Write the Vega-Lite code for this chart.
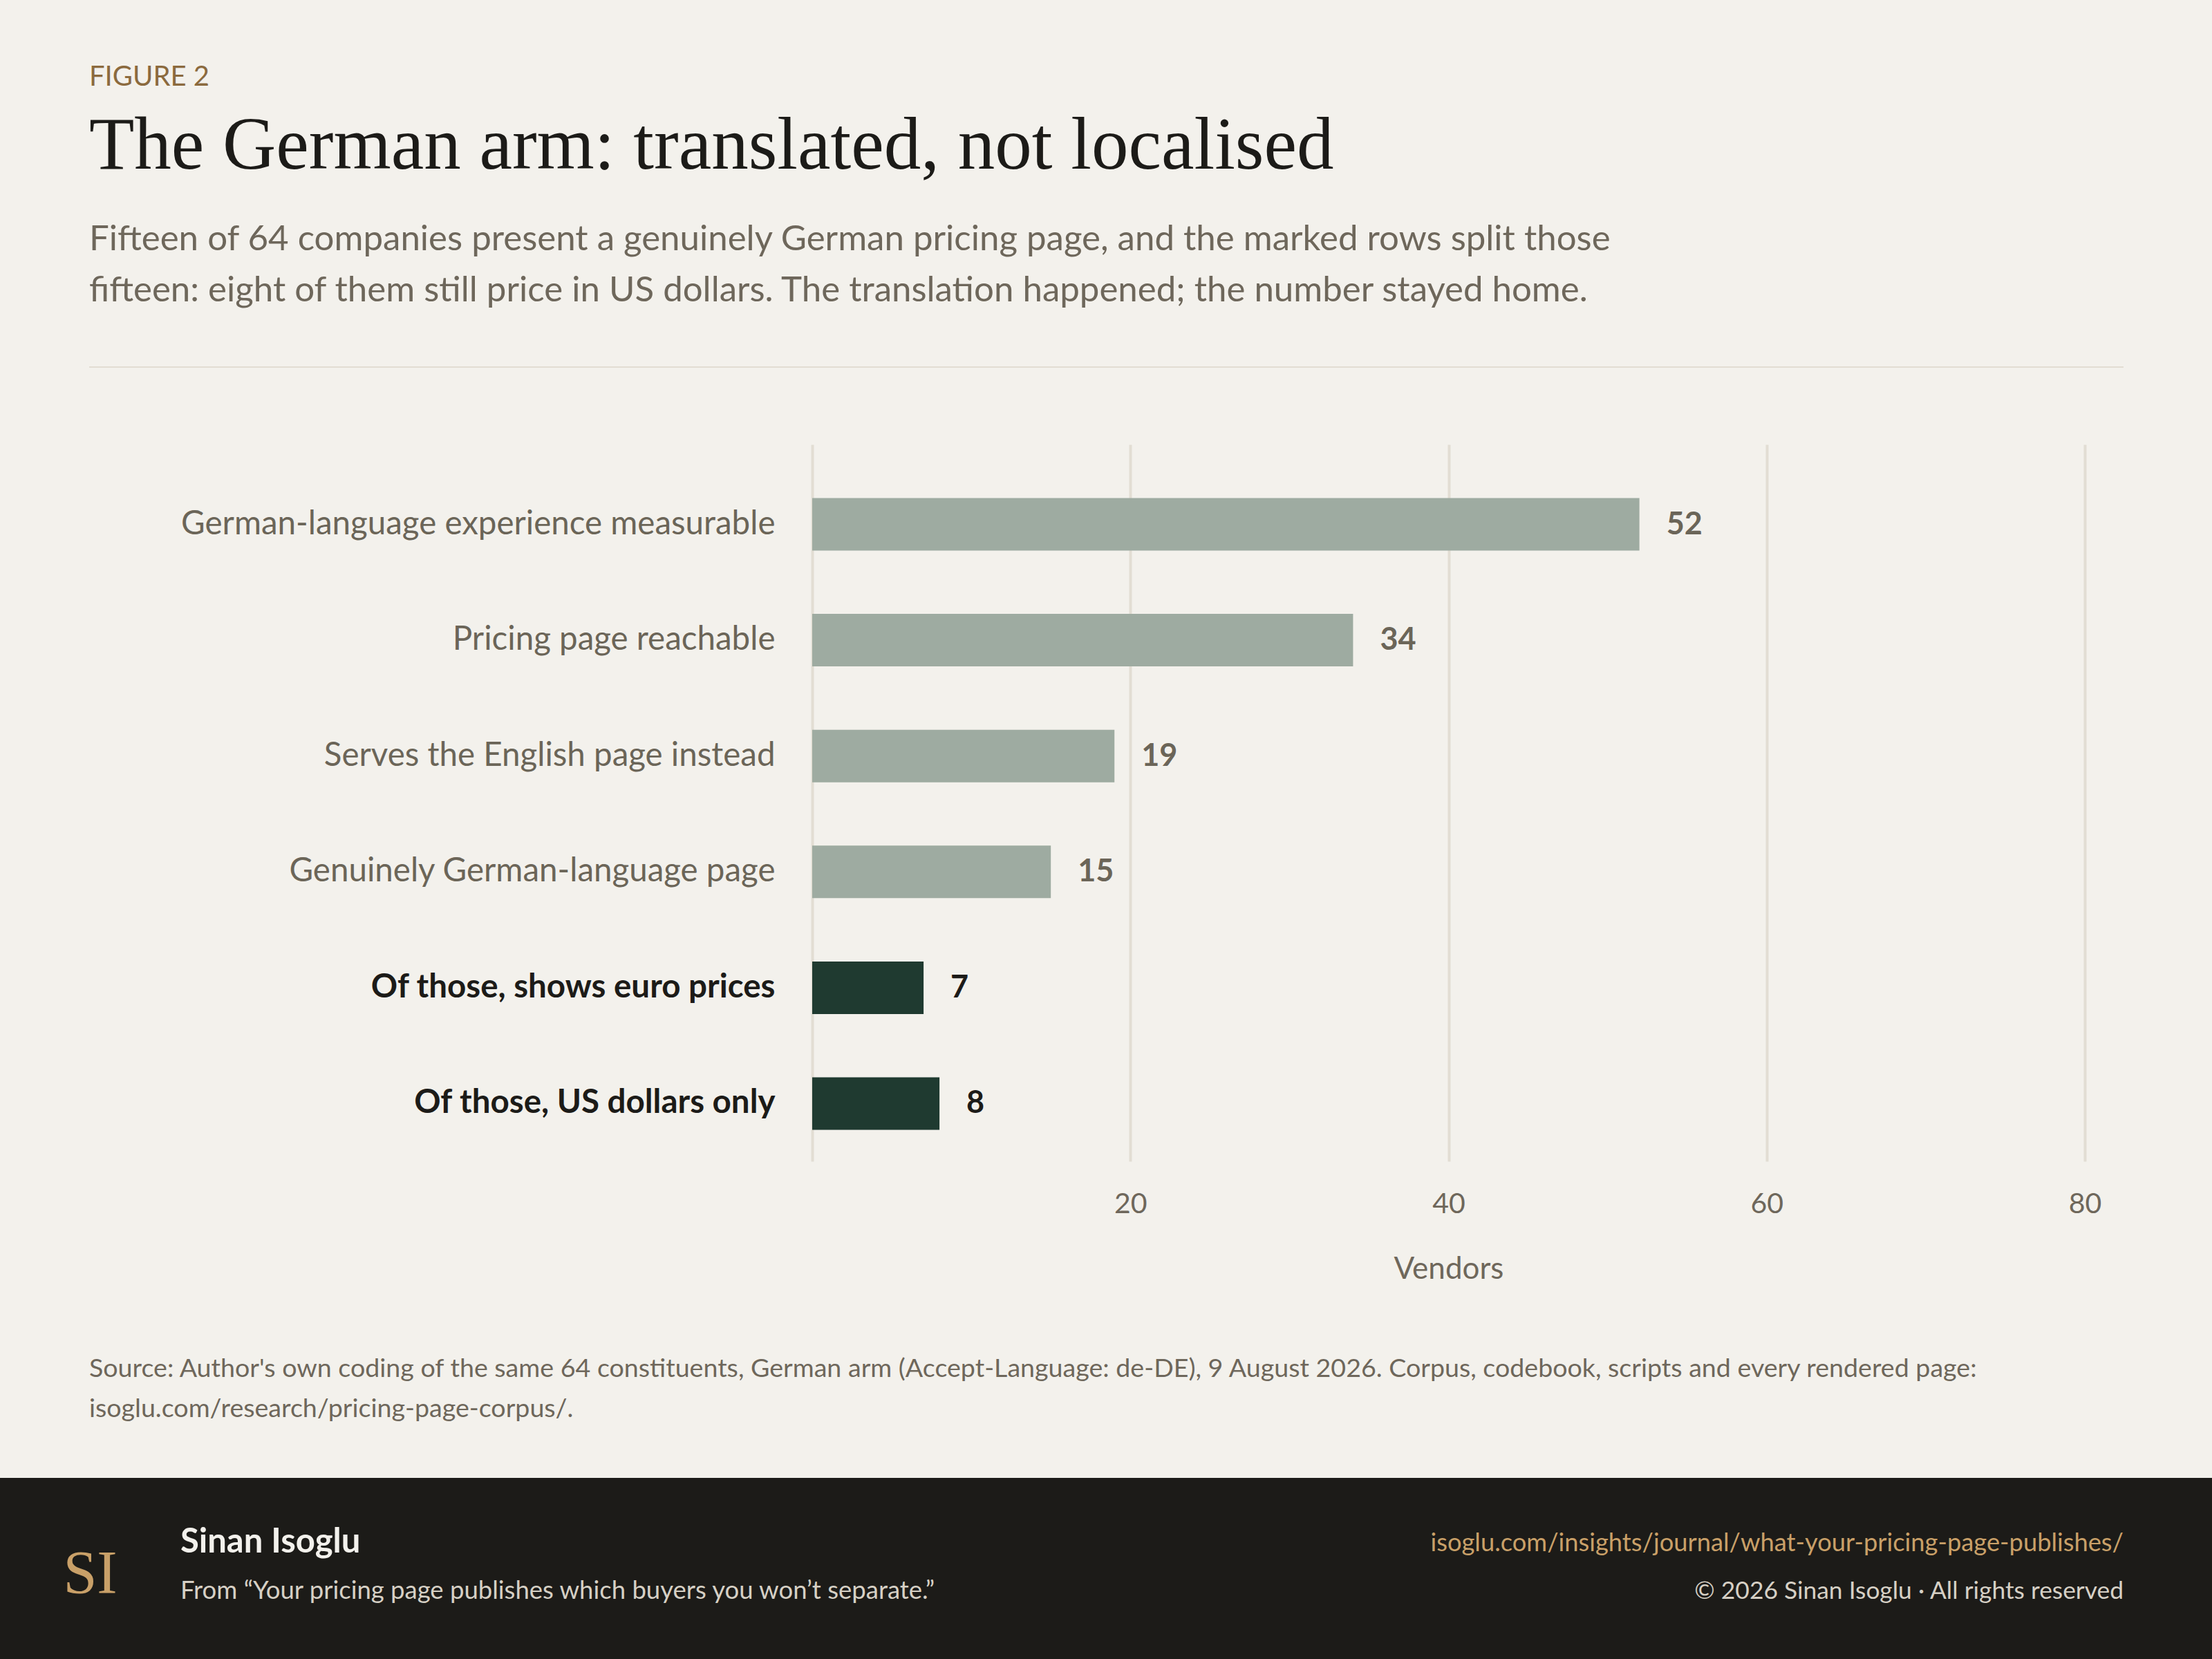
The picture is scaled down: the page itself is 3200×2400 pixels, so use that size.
{
  "$schema": "https://vega.github.io/schema/vega-lite/v6.json",
  "background": "#f3f1ec",
  "padding": 0,
  "bounds": "flush",
  "spacing": 0,
  "config": {
    "view": {"stroke": null},
    "font": "Lato",
    "title": {"anchor": "start", "frame": "group"}
  },
  "vconcat": [
    {
      "width": 3200, "height": 530,
      "data": {"values": [{}]},
      "mark": {"type": "text"},
      "encoding": {"text": {"value": ""}}
    },
    {
      "hconcat": [
        {
          "width": 129, "height": 2,
          "data": {"values": [{}]},
          "mark": {"type": "text"},
          "encoding": {"text": {"value": ""}},
          "title": {"text": "FIGURE 2", "anchor": "start", "frame": "group", "dx": 129, "offset": 393, "font": "Lato", "fontSize": 40, "fontWeight": "normal", "color": "#8b6a3e"}
        },
        {
          "width": 2943, "height": 2,
          "data": {"values": [{}]},
          "mark": {"type": "text"},
          "encoding": {"text": {"value": ""}},
          "view": {"fill": "#e2ddd3", "stroke": null},
          "title": {
            "text": "The German arm: translated, not localised",
            "subtitle": ["Fifteen of 64 companies present a genuinely German pricing page, and the marked rows split those", "fifteen: eight of them still price in US dollars. The translation happened; the number stayed home."],
            "anchor": "start", "frame": "group", "offset": 78,
            "font": "Liberation Serif", "fontSize": 107, "fontWeight": "normal", "color": "#1c1b18",
            "subtitleFont": "Lato", "subtitleFontSize": 51, "subtitleColor": "#6e675b", "subtitleLineHeight": 74, "subtitlePadding": 56
          }
        },
        {
          "width": 128, "height": 2,
          "data": {"values": [{}]},
          "mark": {"type": "text"},
          "encoding": {"text": {"value": ""}}
        }
      ],
      "spacing": 0, "bounds": "flush"
    },
    {
      "width": 3200, "height": 113,
      "data": {"values": [{}]},
      "mark": {"type": "text"},
      "encoding": {"text": {"value": ""}}
    },
    {
      "hconcat": [
        {
          "width": 1175, "height": 1037,
          "data": {"values": [{}]},
          "mark": {"type": "text"},
          "encoding": {"text": {"value": ""}}
        },
        {
          "width": 1841, "height": 1037,
          "data": {"values": [
            {"measure": "German-language experience measurable", "vendors": 52, "group": "funnel"},
            {"measure": "Pricing page reachable", "vendors": 34, "group": "funnel"},
            {"measure": "Serves the English page instead", "vendors": 19, "group": "funnel"},
            {"measure": "Genuinely German-language page", "vendors": 15, "group": "funnel"},
            {"measure": "Of those, shows euro prices", "vendors": 7, "group": "split"},
            {"measure": "Of those, US dollars only", "vendors": 8, "group": "split"}
          ]},
          "encoding": {
            "y": {
              "field": "measure", "type": "nominal", "sort": null,
              "scale": {"paddingInner": 0.5465, "paddingOuter": 0.367, "align": 0.63},
              "axis": {
                "title": null, "ticks": false, "domain": false, "grid": false,
                "labelPadding": 54, "labelLimit": 1100, "labelFont": "Lato", "labelFontSize": 47.5,
                "labelColor": {"condition": {"test": "indexof(datum.label, 'Of those') === 0", "value": "#1c1b18"}, "value": "#6b6558"},
                "labelFontWeight": {"condition": {"test": "indexof(datum.label, 'Of those') === 0", "value": "bold"}, "value": "normal"}
              }
            },
            "x": {
              "field": "vendors", "type": "quantitative",
              "scale": {"domain": [0, 80], "nice": false},
              "axis": {
                "title": "Vendors", "values": [0, 20, 40, 60, 80],
                "labelExpr": "datum.value === 0 ? '' : datum.label",
                "labelFlush": false,
                "ticks": false, "domain": false, "grid": true,
                "gridColor": "#e2ddd3", "gridWidth": 4,
                "labelFont": "Lato", "labelFontSize": 41, "labelColor": "#6e675b", "labelPadding": 42,
                "titleFont": "Lato", "titleFontSize": 44, "titleFontWeight": "normal", "titleColor": "#6e675b", "titlePadding": 52
              }
            }
          },
          "layer": [
            {
              "mark": {"type": "bar"},
              "encoding": {
                "color": {"field": "group", "type": "nominal", "scale": {"domain": ["funnel", "split"], "range": ["#9eaba1", "#1f3a30"]}, "legend": null}
              }
            },
            {
              "mark": {"type": "text", "align": "left", "baseline": "middle", "dx": 39, "font": "Lato", "fontSize": 45, "fontWeight": "bold"},
              "encoding": {
                "text": {"field": "vendors", "type": "quantitative"},
                "color": {"condition": {"test": "datum.group === 'split'", "value": "#1c1b18"}, "value": "#6b6558"}
              }
            }
          ]
        }
      ],
      "spacing": 0, "bounds": "flush"
    },
    {
      "width": 3200, "height": 1423,
      "data": {"values": [{}]},
      "mark": {"type": "text"},
      "encoding": {"text": {"value": ""}}
    },
    {
      "width": 3200, "height": 72,
      "data": {"values": [{}]},
      "mark": {"type": "text"},
      "encoding": {"text": {"value": ""}},
      "title": {
        "text": ["Source: Author's own coding of the same 64 constituents, German arm (Accept-Language: de-DE), 9 August 2026. Corpus, codebook, scripts and every rendered page:", "isoglu.com/research/pricing-page-corpus/."],
        "anchor": "start", "frame": "group", "dx": 129, "offset": 8,
        "font": "Lato", "fontSize": 37.6, "fontWeight": "normal", "color": "#6e675b", "lineHeight": 58
      }
    },
    {
      "hconcat": [
        {
          "width": 261, "height": 262,
          "data": {"values": [{}]},
          "mark": {"type": "text"},
          "encoding": {"text": {"value": ""}},
          "view": {"fill": "#1c1b18", "stroke": null},
          "title": {"text": "SI", "anchor": "middle", "frame": "group", "offset": -184, "font": "Liberation Serif", "fontSize": 88, "fontWeight": "normal", "color": "#c9a068"}
        },
        {
          "width": 1400, "height": 262,
          "data": {"values": [{}]},
          "mark": {"type": "text"},
          "encoding": {"text": {"value": ""}},
          "view": {"fill": "#1c1b18", "stroke": null},
          "title": {
            "text": "Sinan Isoglu", "subtitle": "From \u201cYour pricing page publishes which buyers you won\u2019t separate.\u201d",
            "anchor": "start", "frame": "group", "offset": -182,
            "font": "Lato", "fontSize": 49, "fontWeight": "bold", "color": "#f3f1ec",
            "subtitleFont": "Lato", "subtitleFontSize": 36.5, "subtitleColor": "#d6d0c5", "subtitlePadding": 28
          }
        },
        {
          "width": 1539, "height": 262,
          "data": {"values": [{}]},
          "mark": {"type": "text"},
          "encoding": {"text": {"value": ""}},
          "view": {"fill": "#1c1b18", "stroke": null},
          "title": {
            "text": "isoglu.com/insights/journal/what-your-pricing-page-publishes/", "subtitle": "\u00a9 2026 Sinan Isoglu \u00b7 All rights reserved",
            "anchor": "end", "frame": "group", "dx": -128, "offset": -182,
            "font": "Lato", "fontSize": 36.3, "fontWeight": "normal", "color": "#c9a068",
            "subtitleFont": "Lato", "subtitleFontSize": 35.4, "subtitleColor": "#d6d0c5", "subtitlePadding": 33
          }
        }
      ],
      "spacing": 0, "bounds": "flush"
    }
  ]
}
